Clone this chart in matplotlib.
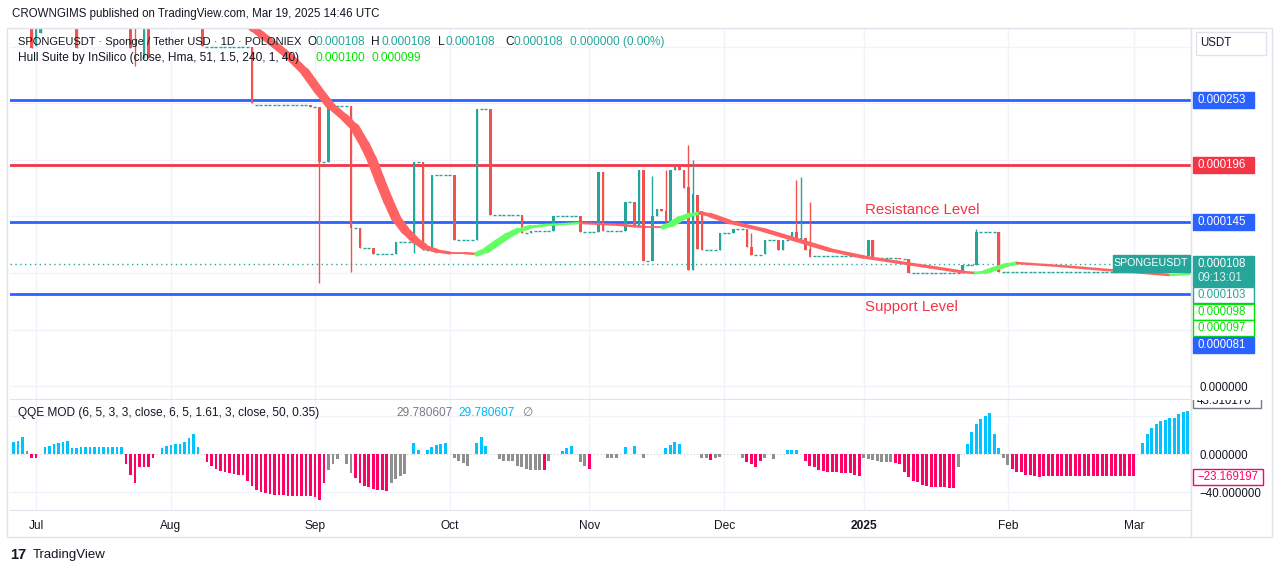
import numpy as np
import matplotlib.pyplot as plt
from matplotlib.collections import LineCollection
from matplotlib.patches import Rectangle
from matplotlib.transforms import Bbox, TransformedBbox

W, H = 1281, 573
E = 1e-6  # prices below are in millionths of a USDT

# ---------------- data ----------------
# candles with a body: bar index, open, high, low, close
candle_idx = [4, 5, 6, 14, 26, 27, 29, 30, 42, 53, 66, 68, 70, 75, 77, 80, 85, 89, 91, 93,
              98, 103, 106, 113, 115, 120, 126, 130, 131, 136, 138, 139, 140, 142, 143, 144,
              145, 146, 147, 148, 149, 150, 151, 152, 153, 157, 160, 163, 164, 167, 170, 171,
              173, 174, 175, 176, 177, 190, 191, 197, 199, 211, 214, 219, 249]
candle_open = [335, 301, 312, 335, 335, 335, 290, 335, 335, 300, 249, 247, 198, 248, 140, 122, 117, 127, 198, 120,
               187, 129, 245, 151, 135, 137, 150, 136, 189, 137, 163, 141, 191, 111, 150, 157,
               155, 145, 191, 194, 191, 176, 103, 169, 155, 120, 135, 139, 123, 117, 129, 120,
               129, 136, 129, 131, 121, 115, 129, 113, 112, 100, 107, 136, 101]
candle_high = [335, 335, 335, 335, 335, 335, 335, 335, 335, 300, 249, 247, 248, 248, 140, 122, 127, 198, 198, 187,
               187, 245, 245, 151, 137, 150, 150, 189, 189, 163, 163, 191, 191, 186, 157, 157,
               191, 191, 194, 194, 191, 213, 200, 169, 155, 135, 139, 139, 135, 129, 129, 129,
               136, 182, 185, 131, 163, 129, 129, 113, 112, 107, 139, 136, 108]
candle_low = [299, 301, 312, 299, 299, 283, 290, 290, 301, 250, 247, 91, 198, 101, 122, 117, 117, 118, 120, 120,
              129, 129, 151, 135, 135, 137, 136, 136, 137, 137, 141, 141, 111, 111, 150, 155,
              145, 145, 191, 191, 175, 103, 103, 121, 120, 120, 135, 123, 116, 117, 120, 120,
              129, 129, 129, 120, 114, 115, 113, 112, 100, 100, 107, 101, 101]
candle_close = [299, 335, 335, 299, 299, 325, 335, 290, 301, 250, 247, 198, 248, 140, 122, 117, 127, 198, 120, 187,
                129, 245, 151, 135, 137, 150, 136, 189, 137, 163, 141, 191, 111, 150, 157, 155,
                145, 191, 194, 191, 175, 103, 170, 121, 120, 135, 139, 123, 116, 129, 120, 129,
                136, 129, 131, 120, 114, 129, 113, 112, 100, 107, 136, 101, 108]

# runs of flat bars (open = high = low = close)
flat_start = [43, 54, 67, 69, 71, 76, 78, 81, 86, 90, 92, 94, 99, 104, 107, 114, 116, 121, 127, 132,
              137, 141, 154, 158, 161, 165, 168, 172, 178, 192, 198, 200, 212, 215, 220, 250]
flat_end = [52, 65, 67, 69, 74, 76, 79, 84, 88, 90, 92, 97, 102, 105, 112, 114, 119, 125, 129, 135,
            137, 141, 156, 159, 162, 166, 169, 172, 189, 196, 198, 210, 213, 218, 248, 261]
flat_price = [300, 249, 247, 198, 248, 140, 122, 117, 127, 198, 120, 187, 129, 245, 151, 135, 137, 150, 136, 137,
              163, 111, 120, 135, 139, 116, 129, 129, 115, 113, 112, 100, 107, 136, 101, 108]

# Hull Suite line
hull_idx = [52.0, 53.2, 55.2, 58.1, 61.4, 64.8, 67.7, 70.3, 73.7, 75.9, 78.1, 79.7, 81.4, 83.2, 85.0,
            87.0, 89.2, 91.4, 94.1, 97.0, 100.3, 103.0, 105.2, 107.4, 109.7, 111.9, 114.8, 118.6,
            122.6, 125.9, 130.3, 134.8, 140.3, 144.3, 146.3, 148.1, 150.3, 152.6, 154.8, 159.2,
            166.6, 174.1, 181.4, 188.8, 196.3, 203.7, 211.0, 213.7, 215.9, 218.6, 220.8, 223.0,
            225.9, 232.6, 243.0, 250.3, 257.0, 261.4]
hull_val = [322, 316.8, 310.6, 301.8, 291.2, 277.9, 261.9, 248.7, 237.2, 228.3, 213.3, 200, 182.3, 164.6, 148.7,
            138, 129.2, 123, 119.5, 117.7, 117.6, 116.8, 120.4, 126.5, 132.7, 137.2, 140.7, 142.5,
            143.4, 144.2, 143.4, 142.5, 140.7, 140.6, 143.4, 147.8, 151.3, 153.1, 151.3, 145.1,
            138.1, 129.2, 120.4, 114.2, 109.7, 105.3, 100.9, 100, 100.9, 104.4, 107.1, 108.8,
            108, 106.2, 102.7, 100.4, 98.2, 99.1]

# horizontal levels
level_blue = [253, 145, 81]
level_red = [196]
last_price = 108

# QQE MOD histogram, one value per bar
qqe_val = [12.3, 13.3, 18.2, 3.5, -4.6, -4.6, 0, 7.0, 8.0, 10.5,
           11.6, 12.3, 13.7, 6.7, 6.3, 7.0, 7.4, 7.4, 7.4, 7.4,
           7.4, 7.4, 7.4, 7.4, 7.4, -10.5, -22, -30.5, -13.3, -13.3,
           -13.3, -4.6, 0, 6.0, 8.0, 9.8, 10.9, 10.9, 12.6, 16.8,
           21, 7.7, 0, -8.8, -13, -15.8, -17.5, -19.3, -20.4, -21,
           -21.8, -21.8, -28.8, -33.3, -37.9, -40.4, -41.4, -42.1, -43.2, -43.2,
           -43.2, -43.9, -43.9, -43.9, -43.9, -43.9, -44.6, -45.6, -48, -30.5,
           -16.8, -10.5, -5.3, 0, -10.5, -20.4, -25, -30.5, -33.3, -35,
           -36.8, -37.9, -37.9, -39.3, -30.9, -26.3, -22.8, -21, 0, 11.2,
           4.2, 0, 4.2, 7.7, 9.8, 10.5, 11.6, 0, -4.6, -7,
           -9.8, -13, 0, 11.2, 17.5, 8.8, 0, 0, -5.3, -7,
           -7.7, -7.7, -12.3, -14, -15.8, -16.5, -16.5, -16.5, -16.5, -7,
           0, 0, 3.5, 6.3, 8, 0, -8, -12.3, -15.8, 0,
           0, 0, -4.2, -4.2, -4.2, 0, 7.7, 0, 8.4, 0,
           -4.2, 0, 0, 0, 0, 6.3, 9.8, 12.3, 10.5, 0,
           0, 0, 0, -4.2, -4.2, -6.3, -4.2, -3.5, 0, 0,
           0, 0, -4.6, -8.8, -10.5, -13.3, -7.7, -4.6, 0, -5.3,
           0, 0, 4.2, 4.2, 4.2, 0, -7.7, -12.3, -14, -16.5,
           -17.5, -18.6, -18.6, -18.6, -19.6, -19.6, -19.6, -21.8, -22.8, -4.2,
           -5.3, -6.3, -7.7, -8, -8, -8, -9.5, -10.5, -18.6, -23.9,
           -28, -29.8, -32.3, -33.3, -34.4, -34.4, -34.4, -35, -35.8, -35.8,
           -13.3, 0, 10.5, 22.8, 31.6, 36.8, 40.4, 42.8, 21, 6.3,
           -4.2, -11.6, -15.8, -18.6, -19.3, -21.8, -21.8, -22.8, -23.9, -23.2,
           -23.2, -23.2, -23.2, -23.2, -23.2, -23.2, -23.2, -23.2, -23.2, -23.2,
           -23.2, -23.2, -23.2, -23.2, -23.2, -23.2, -23.2, -23.2, -23.2, -23.2,
           0, 11.2, 21, 27.4, 31.6, 34.4, 36.1, 37.9, 37.9, 42.1,
           43.9, 45.5]
qqe_kind = ("bbbgrrgbbb" "bbbbbbbbbb" "bbbbbrrrrr" "rrgbbbbbbb" "bbgrrrrrrr"
            "rrrrrrrrrr" "rrrrrrrrrr" "ggggggrrrr" "rrrrgggggb" "bgbbbbbggg"
            "gggbbbgggg" "ggggggggrg" "ggbbbgggrg" "ggggggbgbg" "gggggbbbbg"
            "gggggrgggg" "gggrrrrggg" "ggbbbgrrrr" "rrrrrrrrrg" "ggggggrrrr"
            "rrrrrrrrrr" "ggbbbbbbbb" "ggrrrrrrrr" "rrrrrrrrrr" "rrrrrrrrrr"
            "gbbbbbbbbb" "bb")

month_idx = [5, 35, 67, 97, 128, 158, 189, 221, 249]
month_lbl = ["Jul", "Aug", "Sep", "Oct", "Nov", "Dec", "2025", "Feb", "Mar"]

# ---------------- style ----------------
TEAL, RED = "#26a69a", "#ef5350"
BLUE, LRED = "#2962ff", "#f23645"
HULL_RED, HULL_GREEN = "#ff6262", "#62ff62"
QQE_COL = {"b": "#00c3ff", "r": "#ff0066", "g": "#8f8f8f"}
LIME = "#00e600"
TXT = "#131722"
GRID = "#f0f3fa"
BORDER = "#e0e3eb"
FS = 8.6
SC = 8.3

plt.rcParams["font.family"] = ["Liberation Sans", "DejaVu Sans"]


def fx(x):
    return x / W


def fy(y):
    return 1 - y / H


fig = plt.figure(figsize=(W / 100, H / 100), dpi=100)
ax = fig.add_axes([fx(10), fy(399), (1191 - 10) / W, (399 - 28) / H])
ax2 = fig.add_axes([fx(10), fy(510), (1191 - 10) / W, (510 - 400) / H], sharex=ax)

# ---------------- main pane ----------------
ax.set_xlim(-0.78, 261.7)
ax.set_ylim(-11.5 * E, 316.8 * E)

ax.set_xticks(month_idx)
ax.set_yticks(np.arange(0, 301, 50) * E)
# the other scale marks sit under the price tags, only the zero mark shows
ax.set_yticklabels([f"{v * E:.6f}" if v == 0 else "" for v in np.arange(0, 301, 50)])
ax.yaxis.tick_right()
ax.tick_params(axis="y", length=0, pad=6, labelsize=SC, labelcolor=TXT)
ax.tick_params(axis="x", length=0, labelbottom=False)
ax.grid(True, color=GRID, lw=1)
ax.set_axisbelow(True)
for s in ("left", "top"):
    ax.spines[s].set_visible(False)
for s in ("right", "bottom"):
    ax.spines[s].set_color(BORDER)

for v in level_blue:
    ax.axhline(v * E, color=BLUE, lw=2, zorder=2)
for v in level_red:
    ax.axhline(v * E, color=LRED, lw=2, zorder=2)
ax.axhline(last_price * E, color=TEAL, lw=1, ls=(0, (1, 2.5)), zorder=2)

ci = np.array(candle_idx)
co = np.array(candle_open) * E
ch = np.array(candle_high) * E
cl = np.array(candle_low) * E
cc = np.array(candle_close) * E
ccol = np.where(cc >= co, TEAL, RED)
ax.vlines(ci, cl, ch, colors=ccol, lw=1, zorder=3)
ax.bar(ci, np.abs(cc - co), bottom=np.minimum(co, cc), width=0.62, color=ccol, zorder=3)

for s0, s1, p in zip(flat_start, flat_end, flat_price):
    xs = np.arange(s0, s1 + 1)
    ax.hlines(np.full(len(xs), p * E), xs - 0.33, xs + 0.33, colors=TEAL, lw=1, zorder=3)

# hull band: width follows the slope, colour follows direction
hx = np.array(hull_idx)
hy = np.array(hull_val)
pts = np.column_stack([hx, hy * E])
segs = np.stack([pts[:-1], pts[1:]], axis=1)
px_unit = (399 - 28) / (316.8 + 11.5)
slope = np.abs(np.diff(hy) / np.diff(hx)) * px_unit
width_px = 1.8 + 2.0 * slope * 4.5 / np.sqrt(4.5 ** 2 + slope ** 2)
hcol = np.where(np.diff(hy) >= 0, HULL_GREEN, HULL_RED)
lc = LineCollection(segs, linewidths=width_px * 0.72, colors=hcol,
                    capstyle="round", joinstyle="round", zorder=4)
ax.add_collection(lc)

ax.text(fx(865), fy(210), "Resistance Level", transform=fig.transFigure, color=LRED,
        fontsize=10.8, va="center", ha="left")
ax.text(fx(865), fy(307), "Support Level", transform=fig.transFigure, color=LRED,
        fontsize=10.8, va="center", ha="left")

# ---------------- QQE pane ----------------
ax2.set_ylim(-58.9, 56.8)
qx = np.arange(len(qqe_val))
ax2.bar(qx, qqe_val, width=0.65, color=[QQE_COL[k] for k in qqe_kind], zorder=3)
ax2.set_yticks([-40, 0, 40])
ax2.set_yticklabels(["\u221240.000000", "0.000000", ""])
ax2.yaxis.tick_right()
ax2.tick_params(axis="y", length=0, pad=6, labelsize=SC, labelcolor=TXT)
ax2.set_xticks(month_idx)
ax2.set_xticklabels(month_lbl)
ax2.tick_params(axis="x", length=0, pad=7, labelsize=FS, labelcolor=TXT)
ax2.get_xticklabels()[month_lbl.index("2025")].set_fontweight("bold")
ax2.grid(True, axis="x", color=GRID, lw=1)
ax2.axhline(40, color=GRID, lw=1, zorder=1)
ax2.axhline(-40, color=GRID, lw=1, zorder=1)
ax2.axhline(0, color="#c8cbd2", lw=0.8, ls=(0, (1, 2)), zorder=2)
ax2.set_axisbelow(True)
for s in ("left", "top"):
    ax2.spines[s].set_visible(False)
for s in ("right", "bottom"):
    ax2.spines[s].set_color(BORDER)

# ---------------- frame ----------------
fig.add_artist(Rectangle((fx(7), fy(537)), (1272 - 7) / W, (537 - 28) / H, transform=fig.transFigure,
                         fill=False, ec=BORDER, lw=1))
fig.add_artist(plt.Line2D([fx(1191), fx(1191)], [fy(537), fy(28)], transform=fig.transFigure,
                          color=BORDER, lw=1))

# ---------------- legends / header ----------------
fig.text(fx(12), fy(14), "CROWNGIMS published on TradingView.com, Mar 19, 2025 14:46 UTC",
         fontsize=8.3, color=TXT, va="center")
fig.text(fx(18), fy(42), "SPONGEUSDT \u00b7 Sponge / Tether USD \u00b7 1D \u00b7 POLONIEX",
         fontsize=8.0, color=TXT, va="center")
for lx, key, vx in [(307, "O", 316), (371, "H", 381), (438, "L", 446), (505, "C", 514)]:
    fig.text(fx(lx), fy(42), key, fontsize=FS, color=TXT, va="center")
    fig.text(fx(vx), fy(42), "0.000108", fontsize=FS, color=TEAL, va="center")
fig.text(fx(570), fy(42), "0.000000 (0.00%)", fontsize=FS, color=TEAL, va="center")
fig.text(fx(18), fy(58), "Hull Suite by InSilico (close, Hma, 51, 1.5, 240, 1, 40)",
         fontsize=FS, color=TXT, va="center")
fig.text(fx(315), fy(58), "0.000100", fontsize=FS, color=LIME, va="center")
fig.text(fx(371), fy(58), "0.000099", fontsize=FS, color=LIME, va="center")

fig.text(fx(18), fy(413), "QQE MOD (6, 5, 3, 3, close, 6, 5, 1.61, 3, close, 50, 0.35)",
         fontsize=FS, color=TXT, va="center")
fig.text(fx(396), fy(413), "29.780607", fontsize=FS, color="#787b86", va="center")
fig.text(fx(458), fy(413), "29.780607", fontsize=FS, color="#00b7f0", va="center")
fig.text(fx(522), fy(413), "\u2205", fontsize=FS, color="#787b86", va="center")

fig.text(fx(10), fy(555), "17", fontsize=10.5, fontweight="bold", color=TXT, va="center")
fig.text(fx(33), fy(555), "TradingView", fontsize=9.5, color=TXT, va="center")


# ---------------- price scale labels ----------------
def scale_box(y_top, h, text, fc, ec, tc, x0=1193, w=61, clip=None):
    r = Rectangle((fx(x0), fy(y_top + h)), w / W, h / H, transform=fig.transFigure,
                  fc=fc, ec=ec, lw=1, zorder=10)
    fig.add_artist(r)
    t = fig.text(fx(x0 + 4), fy(y_top + h / 2), text, fontsize=SC, color=tc, va="center",
                 ha="left", zorder=11)
    if clip is not None:
        r.set_clip_box(clip)
        t.set_clip_box(clip)
        t.set_clip_on(True)
    return t


def data_y(v):
    return H - ax.transData.transform((0, v * E))[1]


fig.canvas.draw()
scale_box(data_y(253) - 8, 16, "0.000253", BLUE, BLUE, "white")
scale_box(data_y(196) - 8, 16, "0.000196", LRED, LRED, "white")
scale_box(data_y(145) - 8, 16, "0.000145", BLUE, BLUE, "white")
scale_box(256, 30, "", TEAL, TEAL, "white")
fig.text(fx(1197), fy(264), "0.000108", fontsize=SC, color="white", va="center", zorder=11)
fig.text(fx(1197), fy(278), "09:13:01", fontsize=SC, color="#d9f2ef", va="center", zorder=11)
scale_box(287, 16, "0.000103", "white", TEAL, TEAL)
scale_box(304, 16, "0.000098", "white", LIME, LIME)
scale_box(320, 16, "0.000097", "white", LIME, LIME)
scale_box(337, 16, "0.000081", BLUE, BLUE, "white")
scale_box(32, 23, "USDT", "white", BORDER, TXT, x0=1196, w=70)

# symbol tag at the last price
fig.add_artist(Rectangle((fx(1113), fy(272)), 77 / W, 17 / H, transform=fig.transFigure,
                         fc=TEAL, ec=TEAL, zorder=10))
fig.text(fx(1151), fy(263.5), "SPONGEUSDT", fontsize=7.7, color="white", va="center",
         ha="center", zorder=11)

# QQE scale labels (the top one is cut by the pane edge)
qclip = TransformedBbox(Bbox([[fx(1191), fy(510)], [fx(1272), fy(400)]]), fig.transFigure)
scale_box(394, 14, "43.510170", "white", "#787b86", TXT, w=68, clip=qclip)
scale_box(469, 16, "\u221223.169197", "white", "#ff0066", "#ff0066", w=70)

fig.savefig("out.png", dpi=100, facecolor="white")
